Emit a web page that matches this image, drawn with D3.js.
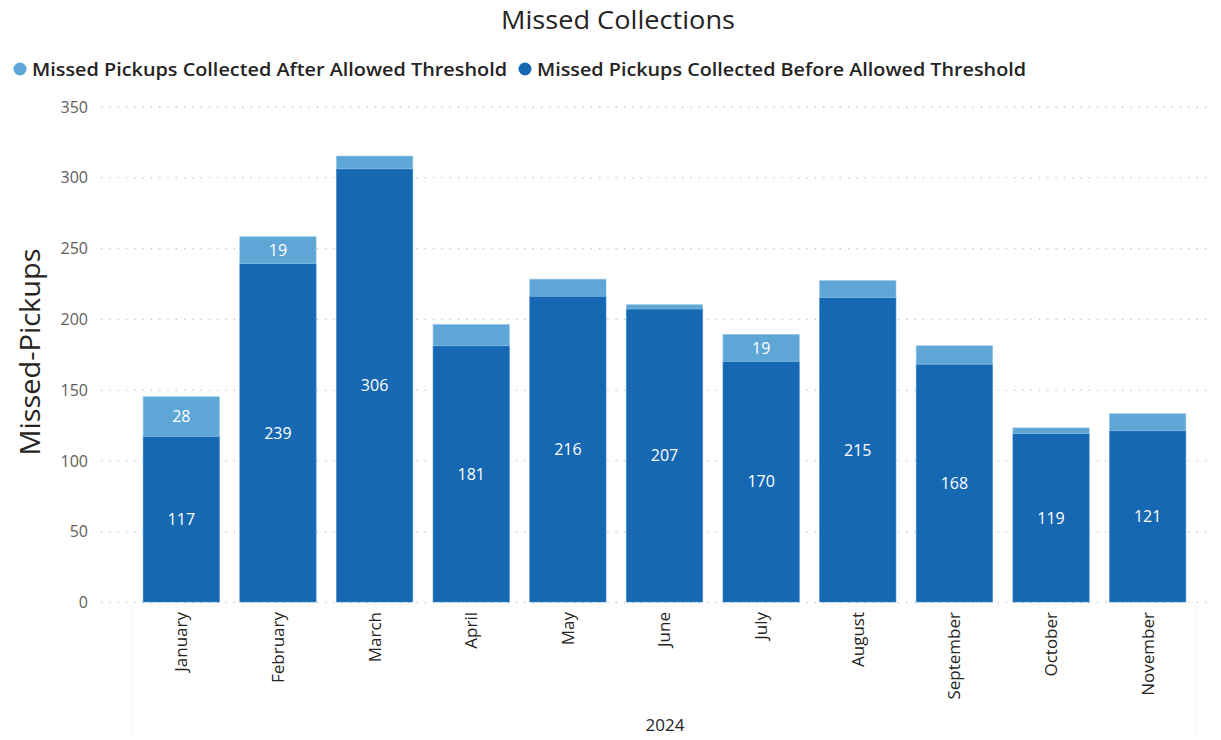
<!DOCTYPE html>
<html>
<head>
<meta charset="utf-8">
<script src="https://cdn.jsdelivr.net/npm/d3@7"></script>
<style>
  html, body { margin: 0; padding: 0; background: #fff; }
  svg { display: block; font-family: "Open Sans", "Noto Sans", sans-serif; }
</style>
</head>
<body>
<svg id="chart" width="1221" height="740"></svg>
<script>
// Monthly missed pickups, 2024
const months = ["January", "February", "March", "April", "May", "June",
                "July", "August", "September", "October", "November"];
const beforeThreshold = [117, 239, 306, 181, 216, 207, 170, 215, 168, 119, 121];
const afterThreshold  = [28, 19, 9, 15, 12, 3, 19, 12, 13, 4, 12];
const yTicks = [0, 50, 100, 150, 200, 250, 300, 350];
const seriesNames = ["Missed Pickups Collected After Allowed Threshold",
                     "Missed Pickups Collected Before Allowed Threshold"];
const yearLabel = "2024";

const colBefore = "#1668B3";
const colAfter = "#5EA6D6";

const svg = d3.select("#chart");

const x = d3.scaleBand()
  .domain(months)
  .range([133, 1196])
  .paddingInner(0.21)
  .paddingOuter(0.105);

const y = d3.scaleLinear().domain([0, 350]).range([602, 106.5]);

// Title
svg.append("text")
  .attr("x", 618).attr("y", 29)
  .attr("text-anchor", "middle")
  .attr("font-size", 26)
  .attr("fill", "#252423")
  .attr("textLength", 234).attr("lengthAdjust", "spacingAndGlyphs")
  .text("Missed Collections");

// Legend
const legend = [
  { name: seriesNames[0], color: colAfter, cx: 20, tx: 32, w: 475 },
  { name: seriesNames[1], color: colBefore, cx: 525, tx: 537, w: 489 }
];
legend.forEach(d => {
  svg.append("circle").attr("cx", d.cx).attr("cy", 69).attr("r", 6.5).attr("fill", d.color);
  svg.append("text")
    .attr("x", d.tx).attr("y", 75.5)
    .attr("font-size", 18).attr("font-weight", 600)
    .attr("fill", "#252423")
    .attr("textLength", d.w).attr("lengthAdjust", "spacingAndGlyphs")
    .text(d.name);
});

// Horizontal dotted gridlines + y tick labels
const yAxis = d3.axisLeft(y).tickValues(yTicks).tickSize(0).tickPadding(0);
const gy = svg.append("g").attr("transform", "translate(88,0)").call(yAxis);
gy.select(".domain").remove();
gy.selectAll("text")
  .attr("font-size", 16)
  .attr("font-family", "\"Open Sans\", sans-serif")
  .attr("fill", "#605E5C")
  .attr("dy", "0.35em");

svg.append("g").selectAll("line").data(yTicks).join("line")
  .attr("x1", 101).attr("x2", 1208)
  .attr("y1", d => y(d) + 0.5).attr("y2", d => y(d) + 0.5)
  .attr("stroke", "#C8C6C4")
  .attr("stroke-width", 1.3)
  .attr("stroke-dasharray", "1.3,7");

// Vertical dotted lines bounding the year group
[x.range()[0], x.range()[1]].forEach(px => {
  svg.append("line")
    .attr("x1", px).attr("x2", px).attr("y1", 606).attr("y2", 740)
    .attr("stroke", "#E1DFDD").attr("stroke-width", 1)
    .attr("stroke-dasharray", "1,3");
});

// Y axis title
svg.append("text")
  .attr("transform", "translate(40,352) rotate(-90)")
  .attr("text-anchor", "middle")
  .attr("font-size", 28)
  .attr("fill", "#252423")
  .attr("textLength", 207).attr("lengthAdjust", "spacingAndGlyphs")
  .text("Missed-Pickups");

// Stacked bars
const rows = months.map((m, i) => ({ month: m, before: beforeThreshold[i], after: afterThreshold[i] }));
const stack = d3.stack().keys(["before", "after"])(rows);
const colors = { before: colBefore, after: colAfter };

const bars = svg.append("g");
stack.forEach(layer => {
  bars.append("g").selectAll("rect").data(layer).join("rect")
    .attr("x", d => x(d.data.month))
    .attr("width", x.bandwidth())
    .attr("y", d => y(d[1]))
    .attr("height", d => y(d[0]) - y(d[1]))
    .attr("fill", colors[layer.key])
    .attr("stroke", layer.key === "after" ? "#8CC2E6" : "#3C88CC")
    .attr("stroke-width", 0.8)
    .attr("stroke-opacity", 0.7);
});

// Data labels, centred in each segment when it is tall enough
const labels = svg.append("g");
stack.forEach(layer => {
  labels.selectAll(null)
    .data(layer.filter(d => y(d[0]) - y(d[1]) >= 24))
    .join("text")
    .attr("x", d => x(d.data.month) + x.bandwidth() / 2)
    .attr("y", d => (y(d[0]) + y(d[1])) / 2)
    .attr("dy", "0.36em")
    .attr("text-anchor", "middle")
    .attr("font-size", 16)
    .attr("fill", "#FFFFFF")
    .text(d => d.data[layer.key]);
});

// X axis month labels (rotated)
const xAxis = d3.axisBottom(x).tickSize(0).tickPadding(0);
const gx = svg.append("g").attr("transform", "translate(0,612)").call(xAxis);
gx.select(".domain").remove();
gx.selectAll("text")
  .attr("transform", "rotate(-90)")
  .attr("text-anchor", "end")
  .attr("x", 0).attr("y", 0)
  .attr("dy", "0.35em")
  .attr("font-size", 17)
  .attr("font-family", "\"Open Sans\", sans-serif")
  .attr("fill", "#252423");

// Year label
svg.append("text")
  .attr("x", 665).attr("y", 731)
  .attr("text-anchor", "middle")
  .attr("font-size", 17)
  .attr("fill", "#252423")
  .text(yearLabel);
</script>
</body>
</html>
